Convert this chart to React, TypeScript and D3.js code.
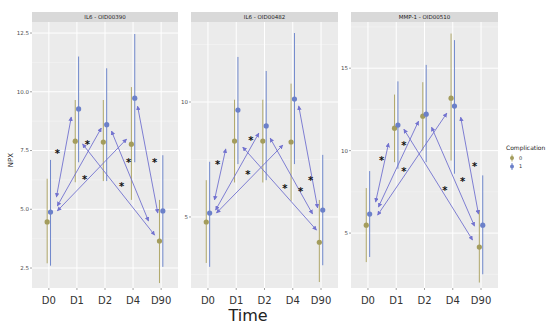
import * as d3 from "d3";

// categories
const times = ["D0", "D1", "D2", "D4", "D90"];
const panelTitles = ["IL6 - OID00390", "IL6 - OID00482", "MMP-1 - OID00510"];
const groups = ["0", "1"];

// per panel: Complication = 0
const mean0 = [
  [4.46, 7.9, 7.86, 7.77, 3.65],
  [4.78, 8.3, 8.3, 8.26, 3.9],
  [5.48, 11.36, 12.09, 13.18, 4.15],
];
const lo0 = [
  [2.7, 6.15, 6.2, 5.4, 1.86],
  [3.0, 6.5, 6.5, 5.7, 2.17],
  [3.24, 9.3, 10.0, 9.4, 2.0],
];
const hi0 = [
  [6.3, 9.65, 9.65, 10.2, 5.4],
  [6.6, 10.1, 10.1, 10.8, 5.74],
  [7.73, 13.4, 14.15, 17.1, 6.4],
];
// per panel: Complication = 1
const mean1 = [
  [4.88, 9.27, 8.6, 9.73, 4.93],
  [5.17, 9.65, 8.96, 10.13, 5.3],
  [6.15, 11.55, 12.21, 12.7, 5.48],
];
const lo1 = [
  [2.6, 7.0, 6.2, 7.0, 2.55],
  [2.83, 7.3, 6.6, 7.3, 2.9],
  [3.55, 8.9, 9.3, 8.6, 2.5],
];
const hi1 = [
  [7.1, 11.5, 11.0, 12.46, 7.3],
  [7.4, 11.96, 11.35, 13.0, 7.7],
  [8.76, 14.2, 15.2, 16.7, 8.5],
];

// y axis per panel
const yDomains = [
  [1.65, 12.97],
  [1.91, 13.48],
  [1.67, 17.8],
];
const yTicks = [
  [2.5, 5, 7.5, 10, 12.5],
  [5, 10],
  [5, 10, 15],
];
const yMinor = [
  [3.75, 6.25, 8.75, 11.25],
  [2.5, 7.5, 12.5],
  [2.5, 7.5, 12.5, 17.5],
];
const yFormat = [d3.format(".1f"), d3.format("d"), d3.format("d")];

// arrows: [fromTime, fromOffset, fromValue, toTime, toOffset, toValue]
type Arrow = [string, number, number, string, number, number];
const arrows: Arrow[][] = [
  [
    ["D0", 0.27, 5.52, "D1", -0.2, 8.93],
    ["D0", 0.3, 5.14, "D2", -0.13, 8.46],
    ["D0", 0.3, 4.93, "D4", -0.23, 7.99],
    ["D1", 0.2, 7.78, "D90", -0.23, 3.9],
    ["D2", 0.23, 8.33, "D90", -0.45, 4.5],
    ["D4", 0.16, 9.39, "D90", -0.12, 4.84],
  ],
  [
    ["D0", 0.23, 5.74, "D1", -0.37, 7.96],
    ["D0", 0.27, 5.3, "D2", -0.2, 8.65],
    ["D0", 0.3, 5.17, "D4", -0.35, 8.13],
    ["D1", 0.23, 8.04, "D90", -0.16, 4.43],
    ["D2", 0.2, 8.43, "D90", -0.3, 5.13],
    ["D4", 0.21, 9.83, "D90", -0.12, 5.39],
  ],
  [
    ["D0", 0.27, 6.88, "D1", -0.27, 10.45],
    ["D0", 0.37, 6.58, "D2", -0.21, 11.79],
    ["D0", 0.34, 6.09, "D4", -0.21, 12.27],
    ["D1", 0.27, 11.3, "D90", -0.3, 4.58],
    ["D2", 0.25, 11.42, "D90", -0.23, 5.42],
    ["D4", 0.28, 12.03, "D90", -0.09, 6.15],
  ],
];

// asterisks: [time, offset, value]
type Star = [string, number, number];
const stars: Star[][] = [
  [
    ["D0", 0.3, 7.48],
    ["D1", 0.37, 7.86],
    ["D1", 0.27, 6.37],
    ["D4", -0.41, 6.07],
    ["D4", -0.16, 7.1],
    ["D90", -0.23, 7.1],
  ],
  [
    ["D2", -0.48, 8.43],
    ["D0", 0.34, 7.39],
    ["D1", 0.41, 6.96],
    ["D4", -0.28, 6.35],
    ["D4", 0.28, 6.22],
    ["D90", -0.37, 6.7],
  ],
  [
    ["D1", 0.27, 10.45],
    ["D0", 0.48, 9.55],
    ["D1", 0.27, 8.88],
    ["D4", -0.28, 7.73],
    ["D4", 0.35, 8.27],
    ["D90", -0.23, 9.18],
  ],
];

const W = 550;
const H = 328;
const panelX = [
  [32, 178],
  [191, 338],
  [351, 498],
];
const top = 22;
const bottom = 288;
const stripTop = 12;

const color = d3.scaleOrdinal<string, string>().domain(groups).range(["#a39c5c", "#6b80c9"]);
const barColor = d3.scaleOrdinal<string, string>().domain(groups).range(["#b0a86a", "#7088cc"]);
const arrowColor = "#7272cf";
const dodge = 0.06;

function Panel({ p }: { p: number }) {
  const [x0, x1] = panelX[p];
  const x = d3.scalePoint<string>().domain(times).range([x0, x1]).padding(0.6);
  const step = x.step();
  const xs = (t: string, off: number) => (x(t) as number) + off * step;
  const y = d3.scaleLinear().domain(yDomains[p]).range([bottom, top]);
  const series = [
    { g: "0", mean: mean0[p], lo: lo0[p], hi: hi0[p], off: -dodge },
    { g: "1", mean: mean1[p], lo: lo1[p], hi: hi1[p], off: dodge },
  ];
  return (
    <g>
      <rect x={x0} y={top} width={x1 - x0} height={bottom - top} fill="#ebebeb" />
      {yMinor[p].map((v) => (
        <line key={"m" + v} x1={x0} x2={x1} y1={y(v)} y2={y(v)} stroke="#f6f6f6" strokeWidth={0.5} />
      ))}
      {yTicks[p].map((v) => (
        <line key={"t" + v} x1={x0} x2={x1} y1={y(v)} y2={y(v)} stroke="#ffffff" strokeWidth={1} />
      ))}
      {times.map((t) => (
        <line key={t} x1={x(t)} x2={x(t)} y1={top} y2={bottom} stroke="#ffffff" strokeWidth={1} />
      ))}
      <rect x={x0} y={stripTop} width={x1 - x0} height={top - stripTop} fill="#d9d9d9" />
      <text x={(x0 + x1) / 2} y={(stripTop + top) / 2} dy="0.35em" textAnchor="middle" fontSize={5.5} fill="#1a1a1a">
        {panelTitles[p]}
      </text>
      {yTicks[p].map((v) => (
        <g key={"yl" + v}>
          <line x1={x0 - 2} x2={x0} y1={y(v)} y2={y(v)} stroke="#444" strokeWidth={0.5} />
          <text x={x0 - 3} y={y(v)} dy="0.35em" textAnchor="end" fontSize={5.5} fill="#4d4d4d">
            {yFormat[p](v)}
          </text>
        </g>
      ))}
      {times.map((t) => (
        <g key={"xl" + t}>
          <line x1={x(t)} x2={x(t)} y1={bottom} y2={bottom + 2} stroke="#444" strokeWidth={0.5} />
          <text x={x(t)} y={bottom + 16} textAnchor="middle" fontSize={10} fill="#333">
            {t}
          </text>
        </g>
      ))}
      {series.map((s) =>
        times.map((t, i) => (
          <g key={s.g + t}>
            <line
              x1={xs(t, s.off)}
              x2={xs(t, s.off)}
              y1={y(s.lo[i])}
              y2={y(s.hi[i])}
              stroke={barColor(s.g)}
              strokeWidth={1}
            />
            <circle cx={xs(t, s.off)} cy={y(s.mean[i])} r={2.6} fill={color(s.g)} />
          </g>
        ))
      )}
      {arrows[p].map((a, i) => (
        <line
          key={"a" + i}
          x1={xs(a[0], a[1])}
          y1={y(a[2])}
          x2={xs(a[3], a[4])}
          y2={y(a[5])}
          stroke={arrowColor}
          strokeWidth={0.9}
          markerStart="url(#head)"
          markerEnd="url(#head)"
        />
      ))}
      {stars[p].map((s, i) => (
        <text
          key={"s" + i}
          x={xs(s[0], s[1])}
          y={y(s[2])}
          dy="0.6em"
          textAnchor="middle"
          fontSize={10}
          fontWeight="bold"
          fill="#111"
        >
          *
        </text>
      ))}
    </g>
  );
}

export default function App() {
  return (
    <svg
      width={W}
      height={H}
      style={{ position: "absolute", left: 0, top: 0, background: "#fff" }}
      fontFamily="DejaVu Sans, sans-serif"
    >
      <defs>
        <marker
          id="head"
          viewBox="0 0 10 10"
          refX={9}
          refY={5}
          markerWidth={4.5}
          markerHeight={4.5}
          orient="auto-start-reverse"
          markerUnits="userSpaceOnUse"
        >
          <path d="M0,0 L10,5 L0,10 z" fill={arrowColor} />
        </marker>
      </defs>
      <rect width={W} height={H} fill="#fff" />
      {[0, 1, 2].map((p) => (
        <Panel key={p} p={p} />
      ))}
      <text transform="translate(13,160) rotate(-90)" textAnchor="middle" fontSize={7} fill="#222">
        NPX
      </text>
      <text x={248} y={321} textAnchor="middle" fontSize={16} fill="#222">
        Time
      </text>
      <g transform="translate(506,148)">
        <text x={0} y={0} dy="0.35em" fontSize={6} fill="#222">
          Complication
        </text>
        {groups.map((g, i) => (
          <g key={g} transform={`translate(6,${10 + i * 8.5})`}>
            <line x1={0} x2={0} y1={-3.5} y2={3.5} stroke={barColor(g)} strokeWidth={1} />
            <circle cx={0} cy={0} r={2} fill={color(g)} />
            <text x={7} y={0} dy="0.35em" fontSize={5} fill="#333">
              {g}
            </text>
          </g>
        ))}
      </g>
    </svg>
  );
}
